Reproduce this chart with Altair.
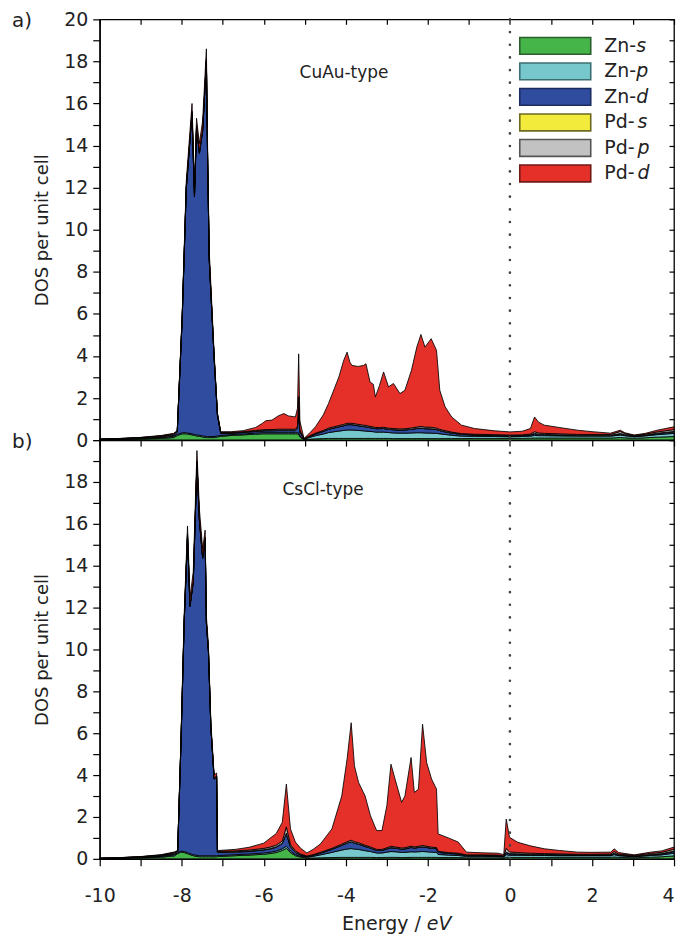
import altair as alt
import pandas as pd

# ---------------- data ----------------
ORBITALS = ["Zn-s", "Zn-p", "Zn-d", "Pd-s", "Pd-p", "Pd-d"]
FILLS = ["#46b549", "#76c8cc", "#2f4c9f", "#f2eb3b", "#c2c2c2", "#e5302a"]
EDGES = ["#2a5e2c", "#3c6f72", "#1c2c60", "#6e6a22", "#555555", "#6e1a16"]

E_TICKS = [-10, -9, -8, -7, -6, -5, -4, -3, -2, -1, 0, 1, 2, 3, 4]
DOS_TICKS = [0, 1, 2, 3, 4, 5, 6, 7, 8, 9, 10, 11, 12, 13, 14, 15, 16, 17, 18, 19, 20]
FERMI = [0.0]

# panel a) CuAu-type
a_energy = [-10.0, -9.5, -9.0, -8.5, -8.2, -8.11, -7.99, -7.89, -7.75, -7.69, -7.64, -7.57, -7.49, -7.40,
            -7.37, -7.33, -7.21, -7.13, -7.05, -6.8, -6.5, -6.2, -6.04, -5.95, -5.8, -5.65, -5.51, -5.40,
            -5.23, -5.18, -5.15, -5.12, -5.02, -4.90, -4.74, -4.55, -4.42, -4.17, -4.05, -3.97, -3.90,
            -3.85, -3.70, -3.57, -3.51, -3.41, -3.33, -3.28, -3.18, -3.08, -2.96, -2.84, -2.68, -2.56,
            -2.40, -2.27, -2.17, -2.07, -1.92, -1.79, -1.71, -1.58, -1.42, -1.18, -0.86, -0.37, 0.0, 0.3,
            0.5, 0.6, 0.7, 0.84, 1.2, 1.65, 2.0, 2.45, 2.69, 2.8, 3.03, 3.3, 3.59, 4.0]
a_zn_s = [0.02, 0.03, 0.05, 0.08, 0.12, 0.22, 0.3, 0.3, 0.25, 0.22, 0.2, 0.18, 0.15, 0.12,
          0.12, 0.12, 0.12, 0.15, 0.18, 0.22, 0.25, 0.28, 0.3, 0.3, 0.3, 0.3, 0.3, 0.3,
          0.3, 0.3, 0.3, 0.15, 0.02, 0.04, 0.06, 0.07, 0.08, 0.08, 0.08, 0.08, 0.08,
          0.08, 0.08, 0.08, 0.08, 0.08, 0.08, 0.08, 0.08, 0.08, 0.08, 0.07, 0.07, 0.07,
          0.07, 0.07, 0.07, 0.07, 0.07, 0.07, 0.07, 0.07, 0.07, 0.07, 0.08, 0.08, 0.08, 0.08,
          0.09, 0.1, 0.1, 0.1, 0.1, 0.1, 0.1, 0.1, 0.12, 0.11, 0.09, 0.11, 0.14, 0.17]
a_zn_p = [0.01, 0.015, 0.025, 0.04, 0.05, 0.05, 0.05, 0.05, 0.05, 0.05, 0.05, 0.05, 0.05, 0.05,
          0.05, 0.05, 0.05, 0.05, 0.04, 0.04, 0.04, 0.05, 0.05, 0.05, 0.05, 0.05, 0.05, 0.05,
          0.05, 0.05, 0.05, 0.04, 0.02, 0.08, 0.15, 0.22, 0.28, 0.35, 0.38, 0.4, 0.4,
          0.4, 0.38, 0.36, 0.35, 0.33, 0.32, 0.3, 0.3, 0.3, 0.28, 0.27, 0.26, 0.26,
          0.27, 0.28, 0.28, 0.27, 0.26, 0.25, 0.23, 0.2, 0.16, 0.12, 0.1, 0.09, 0.08, 0.09,
          0.1, 0.12, 0.11, 0.11, 0.1, 0.09, 0.09, 0.09, 0.12, 0.1, 0.07, 0.09, 0.12, 0.15]
a_zn_d = [0.005, 0.01, 0.015, 0.03, 0.05, 0.1, 5.4, 11.6, 15.2, 11.3, 14.6, 13.4, 14.5, 17.8,
          13.2, 8.4, 3.7, 0.98, 0.1, 0.06, 0.07, 0.08, 0.08, 0.09, 0.09, 0.1, 0.1, 0.1,
          0.1, 0.2, 1.2, 0.2, 0.01, 0.04, 0.08, 0.12, 0.15, 0.2, 0.22, 0.25, 0.25,
          0.25, 0.22, 0.2, 0.2, 0.18, 0.17, 0.16, 0.16, 0.17, 0.15, 0.15, 0.14, 0.15,
          0.17, 0.2, 0.22, 0.2, 0.2, 0.18, 0.15, 0.12, 0.1, 0.08, 0.06, 0.05, 0.04, 0.04,
          0.05, 0.08, 0.06, 0.05, 0.04, 0.03, 0.03, 0.03, 0.06, 0.04, 0.02, 0.03, 0.05, 0.07]
a_pd_s = [0.005, 0.01, 0.015, 0.02, 0.03, 0.03, 0.02, 0.02, 0.02, 0.02, 0.02, 0.02, 0.02, 0.02,
          0.02, 0.02, 0.02, 0.02, 0.02, 0.02, 0.02, 0.02, 0.02, 0.02, 0.02, 0.02, 0.02, 0.02,
          0.02, 0.02, 0.02, 0.01, 0.005, 0.01, 0.01, 0.01, 0.01, 0.01, 0.01, 0.01, 0.01,
          0.01, 0.01, 0.01, 0.01, 0.01, 0.01, 0.01, 0.01, 0.01, 0.01, 0.01, 0.01, 0.01,
          0.01, 0.01, 0.01, 0.01, 0.01, 0.01, 0.01, 0.01, 0.01, 0.01, 0.01, 0.01, 0.01, 0.01,
          0.01, 0.02, 0.01, 0.01, 0.01, 0.01, 0.01, 0.01, 0.01, 0.01, 0.01, 0.01, 0.02, 0.02]
a_pd_p = [0.005, 0.01, 0.015, 0.03, 0.04, 0.03, 0.07, 0.08, 0.1, 0.08, 0.08, 0.08, 0.08, 0.1,
          0.08, 0.06, 0.04, 0.03, 0.02, 0.02, 0.02, 0.03, 0.04, 0.04, 0.04, 0.05, 0.05, 0.05,
          0.05, 0.08, 0.5, 0.08, 0.01, 0.02, 0.03, 0.04, 0.05, 0.05, 0.06, 0.06, 0.06,
          0.06, 0.06, 0.06, 0.06, 0.05, 0.05, 0.05, 0.05, 0.05, 0.05, 0.05, 0.05, 0.05,
          0.06, 0.06, 0.07, 0.07, 0.07, 0.06, 0.05, 0.05, 0.04, 0.03, 0.03, 0.03, 0.03, 0.03,
          0.04, 0.08, 0.06, 0.05, 0.05, 0.04, 0.04, 0.04, 0.1, 0.05, 0.03, 0.04, 0.06, 0.09]
a_pd_d = [0.005, 0.005, 0.01, 0.02, 0.03, 0.02, 0.15, 0.25, 0.38, 0.33, 0.35, 0.37, 0.4, 0.51,
          0.43, 0.35, 0.17, 0.07, 0.04, 0.04, 0.05, 0.14, 0.3, 0.42, 0.45, 0.63, 0.74, 0.63,
          0.58, 0.85, 2.03, 0.42, 0.015, 0.11, 0.3, 0.74, 1.18, 2.31, 3.05, 3.38, 2.9,
          2.75, 2.75, 2.84, 2.93, 2.11, 2.02, 1.45, 2.0, 2.63, 1.96, 2.14, 1.68, 1.83,
          2.74, 3.8, 4.37, 3.8, 4.21, 3.7, 1.86, 1.13, 0.72, 0.4, 0.27, 0.18, 0.15, 0.17,
          0.26, 0.7, 0.51, 0.39, 0.3, 0.2, 0.13, 0.06, 0.06, 0.04, 0.02, 0.04, 0.08, 0.13]

# panel b) CsCl-type
b_energy = [-10.0, -9.5, -9.0, -8.5, -8.18, -8.10, -8.02, -7.94, -7.86, -7.80, -7.72, -7.63, -7.57,
            -7.49, -7.43, -7.40, -7.35, -7.29, -7.21, -7.15, -7.13, -7.09, -6.7, -6.36, -6.0, -5.87,
            -5.7, -5.55, -5.45, -5.35, -5.23, -5.1, -4.95, -4.80, -4.62, -4.34, -4.10, -3.97, -3.87,
            -3.79, -3.69, -3.53, -3.40, -3.25, -3.12, -3.0, -2.90, -2.80, -2.64, -2.56, -2.41, -2.33,
            -2.23, -2.13, -2.03, -1.91, -1.79, -1.75, -1.5, -1.26, -1.06, -0.70, -0.29, -0.15, -0.09,
            -0.01, 0.19, 0.5, 0.84, 1.2, 1.65, 2.0, 2.46, 2.54, 2.65, 3.03, 3.43, 3.7, 4.0]
b_zn_s = [0.01, 0.025, 0.045, 0.08, 0.14, 0.25, 0.32, 0.3, 0.25, 0.2, 0.15, 0.12, 0.1,
          0.1, 0.1, 0.1, 0.1, 0.1, 0.1, 0.1, 0.12, 0.12, 0.15, 0.18, 0.22, 0.25,
          0.3, 0.4, 0.5, 0.3, 0.15, 0.08, 0.04, 0.04, 0.05, 0.06, 0.07, 0.07, 0.07,
          0.07, 0.07, 0.07, 0.07, 0.06, 0.06, 0.07, 0.07, 0.07, 0.06, 0.06, 0.07, 0.07,
          0.07, 0.07, 0.07, 0.07, 0.07, 0.06, 0.06, 0.06, 0.05, 0.05, 0.05, 0.04, 0.08,
          0.07, 0.07, 0.07, 0.07, 0.07, 0.07, 0.07, 0.07, 0.09, 0.07, 0.05, 0.08, 0.1, 0.14]
b_zn_p = [0.005, 0.01, 0.02, 0.035, 0.05, 0.04, 0.05, 0.05, 0.05, 0.05, 0.05, 0.05, 0.05,
          0.05, 0.05, 0.05, 0.05, 0.05, 0.05, 0.05, 0.04, 0.04, 0.05, 0.05, 0.06, 0.06,
          0.07, 0.08, 0.1, 0.07, 0.05, 0.04, 0.04, 0.08, 0.14, 0.25, 0.35, 0.4, 0.42,
          0.4, 0.38, 0.32, 0.28, 0.22, 0.22, 0.25, 0.28, 0.27, 0.25, 0.25, 0.27, 0.26,
          0.27, 0.28, 0.27, 0.25, 0.24, 0.15, 0.12, 0.1, 0.07, 0.07, 0.06, 0.05, 0.12,
          0.1, 0.1, 0.09, 0.09, 0.08, 0.08, 0.08, 0.08, 0.11, 0.08, 0.05, 0.08, 0.09, 0.13]
b_zn_d = [0.005, 0.01, 0.015, 0.03, 0.05, 0.05, 5.1, 11.0, 15.1, 11.8, 13.0, 18.7, 16.0,
          14.2, 15.1, 11.1, 9.75, 6.1, 3.65, 3.75, 0.15, 0.15, 0.12, 0.12, 0.14, 0.15,
          0.18, 0.25, 0.6, 0.2, 0.1, 0.06, 0.03, 0.05, 0.08, 0.14, 0.22, 0.28, 0.32,
          0.28, 0.25, 0.2, 0.16, 0.12, 0.12, 0.15, 0.18, 0.17, 0.15, 0.16, 0.2, 0.18,
          0.2, 0.22, 0.2, 0.18, 0.17, 0.1, 0.08, 0.07, 0.04, 0.04, 0.04, 0.03, 0.1,
          0.07, 0.06, 0.05, 0.04, 0.04, 0.03, 0.03, 0.03, 0.06, 0.03, 0.02, 0.04, 0.05, 0.08]
b_pd_s = [0.005, 0.006, 0.01, 0.015, 0.02, 0.02, 0.02, 0.02, 0.02, 0.02, 0.02, 0.02, 0.02,
          0.02, 0.02, 0.02, 0.02, 0.02, 0.02, 0.02, 0.02, 0.02, 0.02, 0.02, 0.02, 0.02,
          0.02, 0.02, 0.03, 0.02, 0.02, 0.01, 0.01, 0.01, 0.01, 0.01, 0.01, 0.01, 0.01,
          0.01, 0.01, 0.01, 0.01, 0.01, 0.01, 0.01, 0.01, 0.01, 0.01, 0.01, 0.01, 0.01,
          0.01, 0.01, 0.01, 0.01, 0.01, 0.01, 0.01, 0.01, 0.01, 0.01, 0.01, 0.01, 0.02,
          0.01, 0.01, 0.01, 0.01, 0.01, 0.01, 0.01, 0.01, 0.01, 0.01, 0.01, 0.01, 0.01, 0.02]
b_pd_p = [0.003, 0.005, 0.01, 0.02, 0.04, 0.02, 0.06, 0.08, 0.1, 0.08, 0.08, 0.11, 0.1,
          0.08, 0.08, 0.06, 0.06, 0.05, 0.04, 0.04, 0.03, 0.03, 0.04, 0.05, 0.06, 0.07,
          0.08, 0.1, 0.3, 0.1, 0.06, 0.04, 0.02, 0.02, 0.03, 0.04, 0.05, 0.06, 0.07,
          0.06, 0.06, 0.05, 0.05, 0.04, 0.04, 0.05, 0.06, 0.05, 0.05, 0.05, 0.06, 0.05,
          0.05, 0.06, 0.05, 0.05, 0.05, 0.04, 0.03, 0.03, 0.02, 0.02, 0.02, 0.01, 0.18,
          0.08, 0.06, 0.05, 0.04, 0.04, 0.03, 0.03, 0.04, 0.08, 0.04, 0.03, 0.05, 0.06, 0.09]
b_pd_d = [0.002, 0.004, 0.01, 0.02, 0.03, 0.02, 0.15, 0.25, 0.38, 0.35, 0.4, 0.5, 0.43,
          0.35, 0.35, 0.27, 0.22, 0.18, 0.14, 0.14, 0.04, 0.04, 0.07, 0.13, 0.25, 0.4,
          0.55, 0.89, 2.04, 0.74, 0.42, 0.27, 0.14, 0.25, 0.4, 0.93, 2.3, 3.94, 5.61,
          3.62, 2.88, 2.35, 1.49, 0.9, 0.9, 2.01, 3.92, 3.24, 2.18, 2.47, 4.23, 2.6,
          2.73, 5.79, 4.0, 3.25, 2.79, 0.83, 0.7, 0.53, 0.13, 0.1, 0.09, 0.06, 1.4,
          0.7, 0.49, 0.35, 0.23, 0.16, 0.1, 0.09, 0.09, 0.13, 0.07, 0.03, 0.06, 0.07, 0.1]

# ---------------- build tables ----------------
def long_table(energy, comps):
    rows = []
    for k, (name, vals) in enumerate(zip(ORBITALS, comps)):
        assert len(vals) == len(energy), (name, len(vals), len(energy))
        for e, v in zip(energy, vals):
            rows.append({"E": e, "dos": v, "orb": name, "k": k})
    return pd.DataFrame(rows)


df_a = long_table(a_energy, [a_zn_s, a_zn_p, a_zn_d, a_pd_s, a_pd_p, a_pd_d])
df_b = long_table(b_energy, [b_zn_s, b_zn_p, b_zn_d, b_pd_s, b_pd_p, b_pd_d])

FONT = "DejaVu Sans"
W = 576
H_TOP = 422
H_BOT = 420

x_scale = alt.Scale(domain=[-10, 4], nice=False, zero=False)
y_scale = alt.Scale(domain=[0, 20], nice=False, zero=True)
fill_scale = alt.Scale(domain=ORBITALS, range=FILLS)

even_label = "datum.value % 2 == 0 ? '' + datum.value : ''"


def panel(df, show_x_labels, y_label_expr, type_name, type_xy, letter, top_ticks):
    if show_x_labels:
        xaxis = alt.Axis(orient="bottom", values=E_TICKS, labelExpr=even_label, title=None,
                         tickSize=7, labelPadding=21, grid=False, labelFlush=False,
                         labelAlign={"condition": {"test": "datum.value == 4", "value": "right"},
                                     "value": "center"})
    else:
        xaxis = alt.Axis(orient="bottom", values=E_TICKS, labels=False, title=None,
                         tickSize=6, grid=False)
    yaxis = alt.Axis(orient="left", values=DOS_TICKS, labelExpr=y_label_expr,
                     title="DOS per unit cell", tickSize=7, labelPadding=5, titlePadding=12,
                     grid=False, labelFlush=False)

    areas = alt.Chart(df).mark_area(
        interpolate="linear", stroke="black", strokeWidth=0.85, strokeJoin="round"
    ).encode(
        x=alt.X("E:Q", scale=x_scale, axis=xaxis),
        y=alt.Y("dos:Q", stack="zero", scale=y_scale, axis=yaxis),
        color=alt.Color("orb:N", scale=fill_scale, legend=None),
        order=alt.Order("k:Q", sort="ascending"),
    )

    fermi = alt.Chart(pd.DataFrame({"E": FERMI})).mark_rule(
        color="#444444", strokeWidth=2.6, strokeDash=[0.1, 12.6], strokeCap="round"
    ).encode(x=alt.X("E:Q", axis=None))

    # inward ticks on the right frame
    right = alt.Chart(pd.DataFrame({"dos": DOS_TICKS})).mark_rule(opacity=0).encode(
        y=alt.Y("dos:Q", axis=alt.Axis(orient="right", values=DOS_TICKS, labels=False,
                                        title=None, tickSize=5, offset=-5, domain=False,
                                        grid=False))
    )
    layers = [areas, fermi, right]
    if top_ticks:
        top_ax = alt.Chart(pd.DataFrame({"E": E_TICKS})).mark_rule(opacity=0).encode(
            x=alt.X("E:Q", axis=alt.Axis(orient="top", values=E_TICKS, labels=False,
                                          title=None, tickSize=5, offset=-5, domain=False,
                                          grid=False))
        )
        layers.append(top_ax)

    type_text = alt.Chart(pd.DataFrame({"t": [type_name]})).mark_text(
        font=FONT, fontSize=17, color="#222222", align="center", baseline="middle"
    ).encode(text="t:N", x=alt.value(type_xy[0]), y=alt.value(type_xy[1]))

    letter_text = alt.Chart(pd.DataFrame({"t": [letter]})).mark_text(
        font=FONT, fontSize=20, color="#222222", align="left", baseline="middle"
    ).encode(text="t:N", x=alt.value(-88), y=alt.value(2))

    return layers + [type_text, letter_text]


# legend (top panel)
LEG_X0, LEG_X1 = 0.24, 1.97
LEG_TOP, LEG_STEP, LEG_HALF = 18.74, 1.213, 0.4
LEG_TXT_X = 2.30
leg = pd.DataFrame({
    "orb": ORBITALS,
    "pre": [o.split("-")[0] + "-" for o in ORBITALS],
    "suf": [o.split("-")[1] for o in ORBITALS],
})
leg["yc"] = [LEG_TOP - i * LEG_STEP for i in range(len(ORBITALS))]
leg["y1"] = leg["yc"] - LEG_HALF
leg["y2"] = leg["yc"] + LEG_HALF
leg["x1"] = LEG_X0
leg["x2"] = LEG_X1
leg["xt"] = LEG_TXT_X
leg["xs"] = [LEG_TXT_X + (0.78 if p.startswith("Zn") else 0.81) for p in leg["pre"]]

leg_rect = alt.Chart(leg).mark_rect(strokeWidth=1.6).encode(
    x=alt.X("x1:Q", axis=None), x2="x2:Q",
    y=alt.Y("y1:Q", axis=None), y2="y2:Q",
    color=alt.Color("orb:N", scale=fill_scale, legend=None),
    stroke=alt.Stroke("orb:N", scale=alt.Scale(domain=ORBITALS, range=EDGES), legend=None),
)
leg_pre = alt.Chart(leg).mark_text(font=FONT, fontSize=19, color="#222222", align="left",
                                   baseline="middle").encode(
    x=alt.X("xt:Q", axis=None), y=alt.Y("yc:Q", axis=None), text="pre:N")
leg_suf = alt.Chart(leg).mark_text(font=FONT, fontSize=19, color="#222222", align="left",
                                   baseline="middle", fontStyle="italic").encode(
    x=alt.X("xs:Q", axis=None), y=alt.Y("yc:Q", axis=None), text="suf:N")

top_layers = panel(df_a, False, even_label, "CuAu-type", (245, 54), "a)", True)
top = alt.layer(*top_layers, leg_rect, leg_pre, leg_suf).resolve_axis(
    x="independent", y="independent").properties(width=W, height=H_TOP)

bot_layers = panel(df_b, True,
                   "datum.value % 2 == 0 && datum.value < 20 ? '' + datum.value : ''",
                   "CsCl-type", (224, 50), "b)", False)

xt1 = alt.Chart(pd.DataFrame({"t": ["Energy /"]})).mark_text(
    font=FONT, fontSize=19, color="#222222", align="right", baseline="middle"
).encode(text="t:N", x=alt.value(322), y=alt.value(485))
xt2 = alt.Chart(pd.DataFrame({"t": ["eV"]})).mark_text(
    font=FONT, fontSize=19, color="#222222", align="left", baseline="middle", fontStyle="italic"
).encode(text="t:N", x=alt.value(328), y=alt.value(485))

bottom = alt.layer(*bot_layers, xt1, xt2).resolve_axis(
    x="independent", y="independent").properties(width=W, height=H_BOT)

chart = alt.vconcat(top, bottom, spacing=0, bounds="flush").properties(
    padding={"left": 3, "top": 0, "right": 0, "bottom": 0}
).configure_view(
    stroke="black", strokeWidth=1.3
).configure_axis(
    domainColor="black", domainWidth=1.3, tickColor="black", tickWidth=1.2,
    labelFont=FONT, labelFontSize=19, labelColor="#222222",
    titleFont=FONT, titleFontSize=18, titleFontWeight="normal", titleColor="#222222",
)

chart.save("out.html", embed_options={"renderer": "svg", "actions": False})
